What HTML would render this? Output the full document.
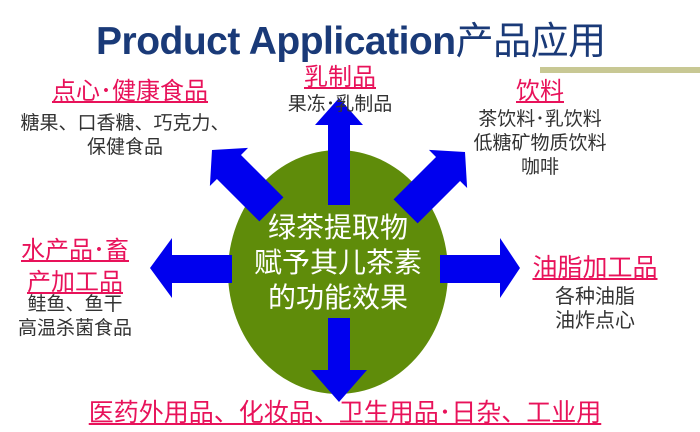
<!DOCTYPE html>
<html><head><meta charset="utf-8"><style>
body{margin:0;width:700px;height:432px;background:#fff;position:relative;overflow:hidden;font-family:"Liberation Sans","Noto Sans CJK SC",sans-serif}
.t{position:absolute;white-space:nowrap;text-align:center}
.r{color:#e8125a;text-decoration:underline;font-size:24px;line-height:30px}
.g{color:#333;font-size:19px;line-height:24px}
</style></head><body>
<div class="t" style="left:96px;top:10px;font-size:39px;font-weight:bold;color:#1a3a78;letter-spacing:-0.5px">Product Application<span style="font-weight:normal;font-size:38px">产品应用</span></div>
<div style="position:absolute;left:540px;top:67px;width:160px;height:6px;background:#c8c894"></div>
<svg width="700" height="432" style="position:absolute;left:0;top:0">
<ellipse cx="338" cy="272" rx="110" ry="122" fill="#5f8c0a"/>
<g fill="#0000ee">
<polygon points="328,205 328,125 315,125 339,98 363,125 350,125 350,205"/>
<polygon points="328,318 328,370 311,370 339,402 367,370 350,370 350,318"/>
<polygon points="232,255 172,255 172,238 150,268 172,298 172,283 232,283"/>
<polygon points="440,255 500,255 500,238 520,268 500,298 500,283 440,283"/>
<g transform="translate(212,150) rotate(-45)"><polygon points="0,0 -27,-24 -17,-24 -17,-84 17,-84 17,-24 27,-24" transform="rotate(180)"/></g>
<g transform="translate(465,152) rotate(45)"><polygon points="0,0 -27,-24 -17,-24 -17,-84 17,-84 17,-24 27,-24" transform="rotate(180)"/></g>
</g>
</svg>
<div class="t" style="left:238px;top:210px;width:200px;color:#fff;font-size:28px;line-height:35px">绿茶提取物<br>赋予其儿茶素<br>的功能效果</div>
<div class="t r" style="left:30px;top:77px;width:200px">点心･健康食品</div>
<div class="t g" style="left:0px;top:112px;width:250px">糖果、口香糖、巧克力、<br>保健食品</div>
<div class="t r" style="left:280px;top:63px;width:120px">乳制品</div>
<div class="t g" style="left:260px;top:93px;width:160px">果冻･乳制品</div>
<div class="t r" style="left:500px;top:77px;width:80px">饮料</div>
<div class="t g" style="left:450px;top:108px;width:180px">茶饮料･乳饮料<br>低糖矿物质饮料<br>咖啡</div>
<div class="t r" style="left:5px;top:235px;width:140px;line-height:32px">水产品･畜<br>产加工品</div>
<div class="t g" style="left:5px;top:293px;width:140px">鲑鱼、鱼干<br>高温杀菌食品</div>
<div class="t r" style="left:520px;top:253px;width:150px;font-size:25px">油脂加工品</div>
<div class="t g" style="left:520px;top:285px;width:150px;font-size:20px">各种油脂<br>油炸点心</div>
<div class="t r" style="left:60px;top:398px;width:570px;font-size:25px">医药外用品、化妆品、卫生用品･日杂、工业用</div>
</body></html>
